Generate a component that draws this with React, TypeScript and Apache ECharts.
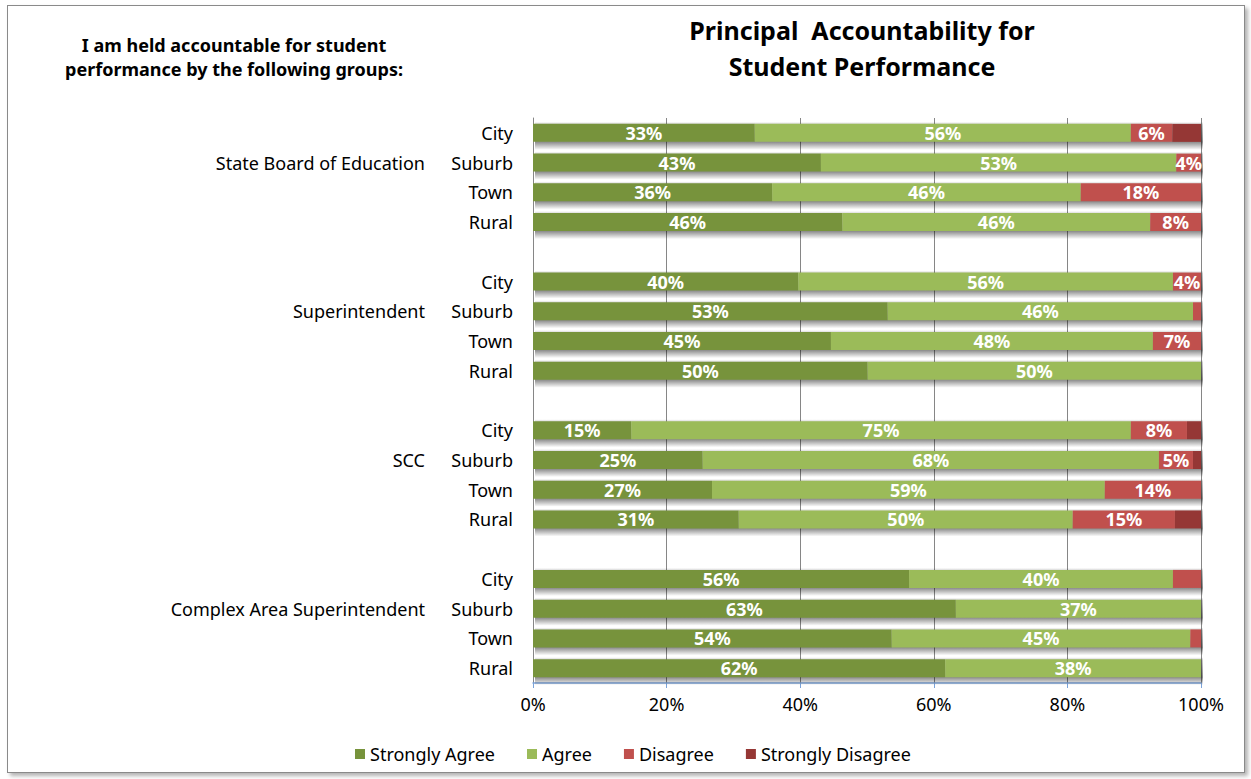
import React, { useEffect, useRef } from "react";
import * as echarts from "echarts";

const subgroups = ["City", "Suburb", "Town", "Rural"];
const groups = ["State Board of Education", "Superintendent", "SCC", "Complex Area Superintendent"];
const seriesNames = ["Strongly Agree", "Agree", "Disagree", "Strongly Disagree"];
const xTicks = [0, 20, 40, 60, 80, 100];

const stronglyAgree = [33.2, 43.1, 35.8, 46.3, 39.7, 53.1, 44.6, 50.1, 14.7, 25.4, 26.8, 30.8, 56.3, 63.3, 53.7, 61.7];
const agree = [56.3, 53.2, 46.2, 46.1, 56.1, 45.7, 48.2, 49.9, 74.8, 68.3, 58.8, 50.0, 39.5, 36.7, 44.7, 38.3];
const disagree = [6.2, 3.7, 18.0, 7.6, 4.2, 1.2, 7.2, 0, 8.4, 5.1, 14.4, 15.3, 4.2, 0, 1.6, 0];
const stronglyDisagree = [4.3, 0, 0, 0, 0, 0, 0, 0, 2.1, 1.2, 0, 3.9, 0, 0, 0, 0];
// labels that are not shown in the reference (series index, row index)
const hiddenLabels = [[2, 12]];

const colors = ["#77933C", "#9BBB59", "#C0504D", "#953735"];
const FONT = "Noto Sans";

export default function App() {
  const ref = useRef<HTMLDivElement>(null);
  useEffect(() => {
    document.body.style.margin = "0";
    if (!ref.current) return;
    const chart = echarts.init(ref.current, null, { renderer: "svg" });

    // 19-row layout: 4 groups of 4 with a blank row between groups
    const rowsInner: string[] = [];
    const rowsOuter: string[] = [];
    const rowIndex: number[] = [];
    groups.forEach((g, gi) => {
      subgroups.forEach((s, si) => {
        rowIndex.push(rowsInner.length);
        rowsInner.push(`${gi}-${s}`);
        rowsOuter.push(si === 1 ? g : "");
      });
      if (gi < groups.length - 1) {
        rowsInner.push(`${gi}-blank`);
        rowsOuter.push("");
      }
    });

    const allData = [stronglyAgree, agree, disagree, stronglyDisagree];
    const series: any[] = allData.map((arr, k) => {
      const data: any[] = rowsInner.map(() => "-");
      arr.forEach((v, i) => {
        const hide = k === 3 || v < 3 || hiddenLabels.some(([a, b]) => a === k && b === i);
        data[rowIndex[i]] = { value: v === 0 ? "-" : v, label: { show: !hide } };
      });
      return {
        name: seriesNames[k],
        type: "bar",
        stack: "total",
        barWidth: 18,
        z: 3,
        data,
        itemStyle: { color: colors[k] },
        label: {
          show: true,
          position: "inside",
          color: "#fff",
          fontFamily: FONT,
          fontWeight: "bold",
          fontSize: 18,
          formatter: (p: any) => `${Math.round(p.value)}%`,
        },
      };
    });

    // soft drop shadow behind each bar, positioned through the axes
    const shadowData = stronglyAgree.map((_, i) => [
      stronglyAgree[i] + agree[i] + disagree[i] + stronglyDisagree[i],
      rowIndex[i],
    ]);
    series.push({
      name: "shadow",
      type: "custom",
      z: 2,
      silent: true,
      data: shadowData,
      encode: { x: 0, y: 1 },
      renderItem: (params: any, api: any) => {
        const start = api.coord([0, api.value(1)]);
        const end = api.coord([api.value(0), api.value(1)]);
        const h = 28;
        return {
          type: "rect",
          shape: { x: start[0] + 2, y: start[1] - 11, width: end[0] - start[0], height: h },
          style: {
            fill: new echarts.graphic.LinearGradient(0, 0, 0, 1, [
              { offset: 0, color: "rgba(0,0,0,0)" },
              { offset: 0.1, color: "rgba(0,0,0,0.2)" },
              { offset: 0.72, color: "rgba(0,0,0,0.45)" },
              { offset: 1, color: "rgba(0,0,0,0)" },
            ]),
          },
        };
      },
    });

    chart.setOption({
      animation: false,
      color: colors,
      textStyle: { fontFamily: FONT },
      grid: { left: 533, right: 50, top: 118, bottom: 96, containLabel: false },
      xAxis: {
        type: "value",
        min: 0,
        max: 100,
        interval: 20,
        axisLine: { show: true, lineStyle: { color: "#7BA3D9", width: 1.5 } },
        axisTick: { show: true, lineStyle: { color: "#7BA3D9" }, length: 5 },
        splitLine: { show: true, lineStyle: { color: "#868686", width: 1 } },
        axisLabel: {
          color: "#000",
          fontFamily: FONT,
          fontSize: 18,
          margin: 12,
          formatter: (v: number) => (xTicks.includes(v) ? `${v}%` : ""),
        },
      },
      yAxis: [
        {
          type: "category",
          inverse: true,
          data: rowsInner,
          axisLine: { show: true, lineStyle: { color: "#868686" } },
          axisTick: { show: false },
          axisLabel: {
            color: "#000",
            fontFamily: FONT,
            fontSize: 18,
            margin: 20,
            formatter: (v: string) => (v.endsWith("blank") ? "" : v.split("-")[1]),
          },
        },
        {
          type: "category",
          inverse: true,
          position: "left",
          data: rowsOuter,
          axisLine: { show: false },
          axisTick: { show: false },
          axisLabel: { color: "#000", fontFamily: FONT, fontSize: 18, margin: 108 },
        },
      ],
      legend: {
        data: seriesNames,
        left: 350,
        top: 740,
        icon: "rect",
        itemWidth: 10,
        itemHeight: 10,
        itemGap: 32,
        textStyle: { color: "#000", fontFamily: FONT, fontSize: 18 },
      },
      graphic: [
        {
          type: "text",
          x: 862,
          y: 12,
          style: {
            text: "Principal  Accountability for\nStudent Performance",
            fill: "#000",
            font: `bold 25px "${FONT}"`,
            textAlign: "center",
            lineHeight: 36,
          },
        },
        {
          type: "text",
          x: 234,
          y: 33,
          style: {
            text: "I am held accountable for student\nperformance by the following groups:",
            fill: "#000",
            font: `bold 18px "${FONT}"`,
            textAlign: "center",
            lineHeight: 24,
          },
        },
      ],
      series,
    });
    return () => chart.dispose();
  }, []);

  return (
    <div style={{ position: "relative", width: 1251, height: 779, background: "#fff" }}>
      <div ref={ref} style={{ position: "absolute", left: 0, top: 0, width: 1251, height: 779 }} />
      <div
        style={{
          position: "absolute",
          left: 7,
          top: 5,
          width: 1236,
          height: 766,
          border: "1px solid #8a8a8a",
          boxShadow: "3px 3px 4px rgba(0,0,0,0.3)",
          pointerEvents: "none",
        }}
      />
    </div>
  );
}
